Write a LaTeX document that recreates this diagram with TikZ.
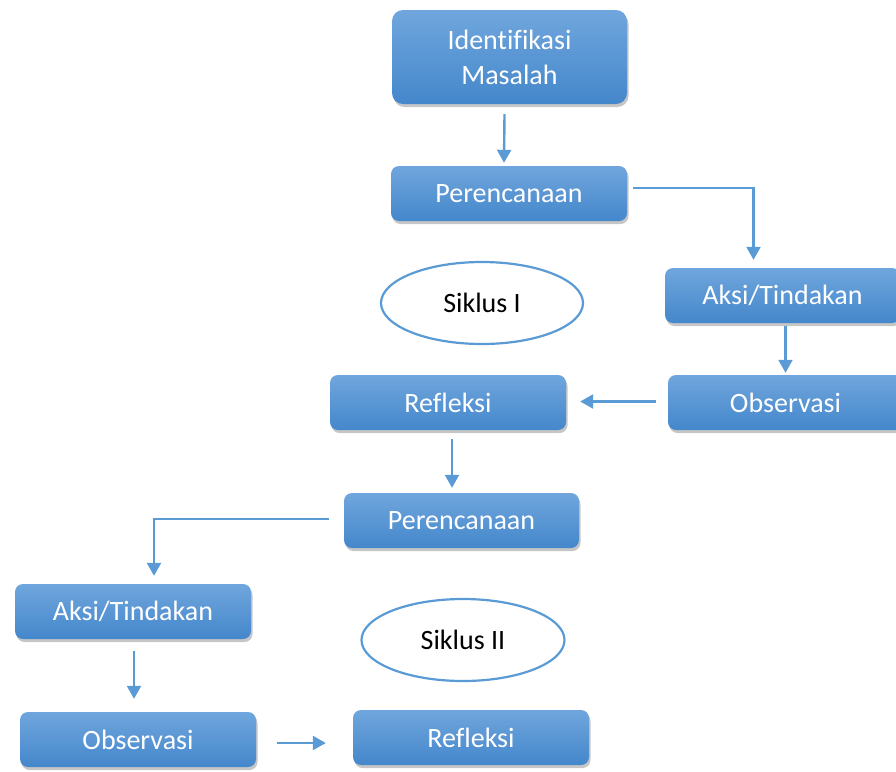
\documentclass[tikz,border=0pt]{standalone}
\usepackage{fontspec}
\setmainfont[Ligatures=NoCommon]{Carlito}
\usetikzlibrary{arrows.meta,shadows,shapes.geometric,calc}
\definecolor{boxtop}{HTML}{70A6DD}
\definecolor{boxbot}{HTML}{4487CB}
\definecolor{linecol}{HTML}{5B9BD5}
\tikzset{
  stepbox/.style={rectangle, rounded corners=8pt, top color=boxtop, bottom color=boxbot,
    draw=none, text=white, minimum width=236pt, minimum height=55pt, inner sep=0pt,
    font=\fontsize{28}{35}\selectfont, align=center,
    drop shadow={opacity=0.45, shadow xshift=1.5pt, shadow yshift=-3pt}},
  cyclebox/.style={ellipse, draw=linecol, line width=2.2pt, fill=white, text=black,
    minimum width=202pt, minimum height=82pt, inner sep=0pt,
    font=\fontsize{28}{33}\selectfont},
  arr/.style={draw=linecol, line width=2.4pt, -{Triangle[length=13pt,width=14pt]}},
}
\begin{document}
\begin{tikzpicture}[x=1pt,y=-1pt]
\useasboundingbox (0,0) rectangle (896,771);
\clip (0,0) rectangle (896,771);
\node[stepbox, minimum width=235pt, minimum height=94pt, rounded corners=11pt] (idm) at (509.5,57) {Identifikasi\\Masalah};
\node[stepbox] (per1) at (509,193.5) {Perencanaan};
\node[stepbox, minimum width=235pt] (aks1) at (782.5,295.5) {Aksi/Tindakan};
\node[stepbox, minimum width=235pt] (obs1) at (785.5,402.5) {Observasi};
\node[stepbox] (ref1) at (448,402.5) {Refleksi};
\node[stepbox, minimum width=235pt] (per2) at (461.5,520.5) {Perencanaan};
\node[stepbox] (aks2) at (133,611.5) {Aksi/Tindakan};
\node[stepbox] (obs2) at (138,739.5) {Observasi};
\node[stepbox] (ref2) at (471,737.5) {Refleksi};
\node[cyclebox] (sik1) at (482,303) {Siklus I};
\node[cyclebox, minimum width=203pt] (sik2) at (463,640) {Siklus II};

\draw[arr] ($(idm.south)+(-5,10)$) -- ($(per1.north)+(-5,-3)$);
\draw[arr] ($(per1.east)+(6,-5.5)$) -| ($(aks1.north)+(-29,-8)$);
\draw[arr] ($(aks1.south)+(3,3)$) -- ($(obs1.north)+(0,-2)$);
\draw[arr] ($(obs1.west)+(-12,-1)$) -- ($(ref1.east)+(14,-1)$);
\draw[arr] ($(ref1.south)+(4,9)$) -- ($(per2.north)+(-9.5,-5)$);
\draw[arr] ($(per2.west)+(-15,-1.5)$) -| ($(aks2.north)+(21,-8)$);
\draw[arr] ($(aks2.south)+(1,12)$) -- ($(obs2.north)+(-4,-13)$);
\draw[arr] ($(obs2.east)+(21,3.5)$) -- ($(ref2.west)+(-27,5.5)$);
\end{tikzpicture}
\end{document}
